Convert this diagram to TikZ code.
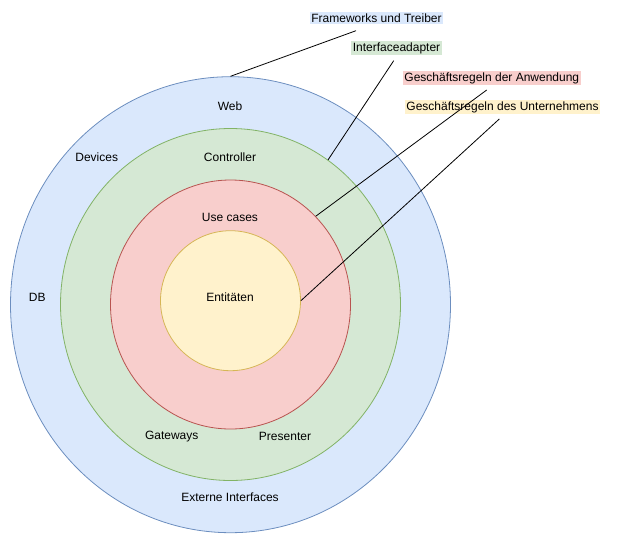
\documentclass[tikz,border=0pt]{standalone}
\usepackage{fontspec}
\setmainfont{Liberation Sans}
\usetikzlibrary{shapes.geometric}

\definecolor{blueFill}{HTML}{DAE8FC}
\definecolor{blueLine}{HTML}{6C8EBF}
\definecolor{greenFill}{HTML}{D5E8D4}
\definecolor{greenLine}{HTML}{82B366}
\definecolor{redFill}{HTML}{F8CECC}
\definecolor{redLine}{HTML}{B85450}
\definecolor{yellowFill}{HTML}{FFF2CC}
\definecolor{yellowLine}{HTML}{D6B656}

\tikzset{
  ring/.style={ellipse,inner sep=0pt,line width=0.8pt},
  txt/.style={font=\fontsize{12}{14}\selectfont,inner sep=1.5pt},
  lead/.style={line width=0.8pt,black}
}

\begin{document}
\begin{tikzpicture}[x=1pt,y=-1pt]
%\draw[step=50,gray,very thin] (0,0) grid (631,544); %background grid
\useasboundingbox (0,0) rectangle (631,544);

\node[ring,draw=blueLine,fill=blueFill,minimum width=440pt,minimum height=456pt] (outer) at (230.5,304.7) {};
\node[ring,draw=greenLine,fill=greenFill,minimum width=340pt,minimum height=352pt] (adapter) at (230.5,304.5) {};
\node[ring,draw=redLine,fill=redFill,minimum width=240pt,minimum height=249pt] (usecase) at (230.5,304.5) {};
\node[ring,draw=yellowLine,fill=yellowFill,minimum width=140pt,minimum height=140pt] (entity) at (230.5,300.7) {};

\node[txt] (web) at (230,106.7) {Web};
\node[txt] (devices) at (96.7,157.7) {Devices};
\node[txt] (controller) at (230,157.7) {Controller};
\node[txt] (db) at (37.3,297.7) {DB};
\node[txt] (cases) at (230,217.7) {Use cases};
\node[txt] (entities) at (230,297.7) {Entitäten};
\node[txt] (gateways) at (171.7,436.7) {Gateways};
\node[txt] (presenter) at (285,436.7) {Presenter};
\node[txt] (extern) at (230,497.3) {Externe Interfaces};

\node[txt,fill=blueFill] (lblFw) at (376.5,18) {Frameworks und Treiber};
\node[txt,fill=greenFill] (lblIa) at (396.5,48) {Interfaceadapter};
\node[txt,fill=redFill] (lblApp) at (491.8,78) {Geschäftsregeln der Anwendung};
\node[txt,fill=yellowFill] (lblEnt) at (502.5,107) {Geschäftsregeln des Unternehmens};

\coordinate (endFw) at (356,30.7);
\coordinate (endIa) at (393.7,60.7);
\coordinate (endApp) at (486.7,90);
\coordinate (endEnt) at (499.3,119);

\draw[lead] (outer.north)--(endFw);
\draw[lead] (adapter.56)--(endIa);
\draw[lead] (usecase.46)--(endApp);
\draw[lead] (entity.east)--(endEnt);

\end{tikzpicture}
\end{document}
